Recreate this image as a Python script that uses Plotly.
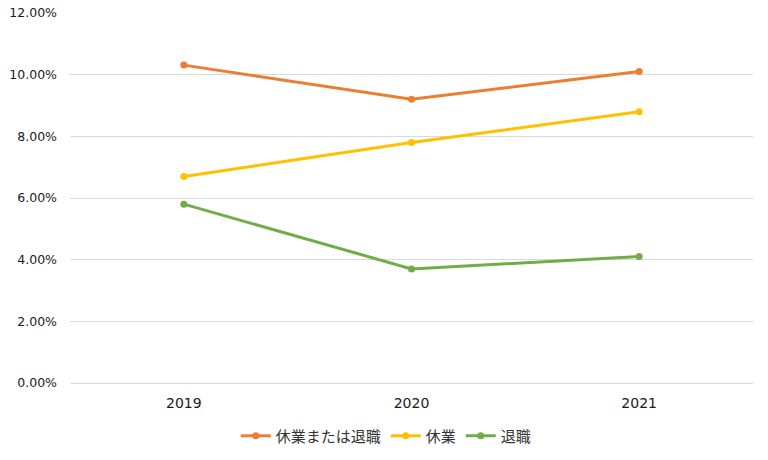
import plotly.graph_objects as go

years = ["2019", "2020", "2021"]
either = [0.1031, 0.092, 0.101]
leave = [0.067, 0.078, 0.088]
retire = [0.058, 0.037, 0.041]
names = ["休業または退職", "休業", "退職"]
colors = ["#ED7D31", "#FFC000", "#70AD47"]

fig = go.Figure()
for vals, name, c in zip([either, leave, retire], names, colors):
    fig.add_trace(go.Scatter(
        x=years, y=vals, name=name, mode="lines+markers",
        line=dict(color=c, width=3), marker=dict(size=7, color=c),
    ))

font_family = "'DejaVu Sans', 'Noto Sans CJK JP', sans-serif"
fig.update_layout(
    width=768, height=460,
    margin=dict(l=70, r=15, t=13, b=77, autoexpand=False),
    plot_bgcolor="white", paper_bgcolor="white",
    font=dict(family=font_family, size=14, color="#1a1a1a"),
    showlegend=True,
    legend=dict(orientation="h", x=0.463, xanchor="center", y=-0.143, yanchor="middle",
                font=dict(size=15, color="#333333", family="'Noto Sans CJK JP', sans-serif"),
                traceorder="normal"),
    xaxis=dict(showgrid=False, showline=False, ticks="", range=[-0.5, 2.5],
               tickfont=dict(size=14), ticklabelstandoff=10),
    yaxis=dict(range=[0, 0.12], dtick=0.02, tickformat=".2%", showgrid=True,
               gridcolor="#D9D9D9", gridwidth=1, zeroline=True, zerolinecolor="#D9D9D9",
               zerolinewidth=1, ticks="", ticklabelstandoff=12, tickfont=dict(size=12.5)),
)
fig.write_html("out.html", post_script="document.body.style.margin='0';",
               config={"displayModeBar": False})
